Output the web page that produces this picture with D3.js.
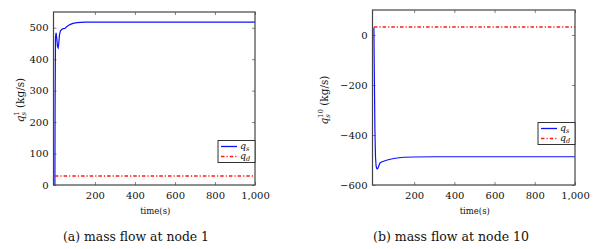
<!DOCTYPE html>
<html>
<head>
<meta charset="utf-8">
<script src="https://cdn.jsdelivr.net/npm/d3@7"></script>
<style>
  body { margin: 0; background: #fff; }
  svg text { font-family: "DejaVu Serif", "Liberation Serif", serif; fill: #111; }
</style>
</head>
<body>
<svg width="602" height="249"></svg>
<script>
// node 1 (left panel)
var t1   = [0, 1, 3, 6, 10, 13, 16, 19, 23, 28, 35, 42, 50, 60, 75, 90, 110, 130, 150, 200, 400, 600, 800, 1000];
var qs1  = [0, 250, 470, 484, 462, 440, 436, 448, 478, 490, 495, 497, 498, 504, 510, 514, 516, 517, 518, 518, 518, 518, 518, 518];
var qd1  = [30, 30];

// node 10 (right panel)
var t10  = [0, 2, 5, 8, 11, 14, 17, 20, 25, 30, 38, 45, 55, 75, 100, 125, 150, 200, 300, 1000];
var qs10 = [30, -150, -380, -490, -525, -534, -536, -533, -522, -512, -508, -506, -503, -498, -494, -491, -489, -488, -487, -487];
var qd10 = [30, 30];

var xTicks   = [200, 400, 600, 800, 1000];
var yTicks1  = [0, 100, 200, 300, 400, 500];
var yTicks10 = [-600, -400, -200, 0];

var svg = d3.select("svg");
var fmt = d3.format(",");
var minus = function(v){ return fmt(v).replace("-", "\u2212"); };
var RED = "#ff1a1a", BLUE = "#1010ff";

var drawPanel = function(o){
    var x = d3.scaleLinear().domain([-7, 1000]).range([o.left, o.right]);
    var y = d3.scaleLinear().domain(o.ydom).range([185, o.top]);
    var g = svg.append("g");

    // ticks inside, both sides
    var xa = d3.axisBottom(x).tickValues(xTicks).tickSizeInner(-3).tickSizeOuter(0).tickFormat(fmt).tickPadding(7);
    var gx = g.append("g").attr("transform", "translate(0,185)").call(xa);
    var xt = d3.axisTop(x).tickValues(xTicks).tickSizeInner(-3).tickSizeOuter(0).tickFormat("");
    var gxt = g.append("g").attr("transform", "translate(0," + o.top + ")").call(xt);
    var ya = d3.axisLeft(y).tickValues(o.yticks).tickSizeInner(-3).tickSizeOuter(0).tickFormat(minus).tickPadding(5);
    var gy = g.append("g").attr("transform", "translate(" + o.left + ",0)").call(ya);
    var yr = d3.axisRight(y).tickValues(o.yticks).tickSizeInner(-3).tickSizeOuter(0).tickFormat("");
    var gyr = g.append("g").attr("transform", "translate(" + o.right + ",0)").call(yr);
    [gx, gxt, gy, gyr].forEach(function(a){
        a.select(".domain").remove();
        a.selectAll("line").attr("stroke", "#666").attr("stroke-width", 0.8);
        a.selectAll("text").style("font-size", "10px").attr("fill", "#111")
            .style("font-family", "'DejaVu Serif', serif");
    });

    var line = d3.line().x(function(d){ return x(d[0]); }).y(function(d){ return y(d[1]); });
    var clip = "clip" + o.id;
    g.append("clipPath").attr("id", clip).append("rect")
        .attr("x", o.left).attr("y", o.top).attr("width", o.right - o.left).attr("height", 185 - o.top);

    g.append("path").datum(o.t.map(function(t, i){ return [t, o.qs[i]]; }))
        .attr("d", line).attr("clip-path", "url(#" + clip + ")")
        .attr("fill", "none").attr("stroke", BLUE).attr("stroke-width", 1.2);
    // flat demand line, snapped to a pixel row
    var yd = Math.round(y(o.qd[0]));
    g.append("path").datum([[0, o.qd[0]], [1000, o.qd[1]]])
        .attr("d", d3.line().x(function(d){ return x(d[0]); }).y(function(){ return yd; }))
        .attr("fill", "none").attr("stroke", RED).attr("stroke-width", 1.3)
        .attr("stroke-dasharray", "3.5,2,1.2,2");

    // frame
    g.append("rect").attr("x", o.left).attr("y", o.top)
        .attr("width", o.right - o.left).attr("height", 185 - o.top)
        .attr("fill", "none").attr("stroke", "#444").attr("stroke-width", 1.2);

    // legend
    var lg = g.append("g").attr("transform", "translate(" + (o.right - 37) + "," + o.legY + ")");
    lg.append("rect").attr("width", 37).attr("height", 22).attr("fill", "#fff")
        .attr("stroke", "#333").attr("stroke-width", 1);
    lg.append("line").attr("x1", 3).attr("x2", 19).attr("y1", 6).attr("y2", 6)
        .attr("stroke", BLUE).attr("stroke-width", 1.3);
    lg.append("line").attr("x1", 3).attr("x2", 19).attr("y1", 16).attr("y2", 16)
        .attr("stroke", RED).attr("stroke-width", 1.3).attr("stroke-dasharray", "3.5,2,1.2,2");
    var l1 = lg.append("text").attr("x", 22).attr("y", 8.5).style("font-size", "9.5px");
    l1.append("tspan").text("q").style("font-style", "italic");
    l1.append("tspan").text("s").style("font-style", "italic").style("font-size", "6.5px").attr("dy", 1.5);
    var l2 = lg.append("text").attr("x", 22).attr("y", 18.5).style("font-size", "9.5px");
    l2.append("tspan").text("q").style("font-style", "italic");
    l2.append("tspan").text("d").style("font-style", "italic").style("font-size", "6.5px").attr("dy", 1.5);

    // x label
    g.append("text").attr("x", (o.left + o.right) / 2 + 1).attr("y", 214)
        .attr("text-anchor", "middle").style("font-size", "8.5px").text("time(s)");

    // y label
    var yl = g.append("text").attr("transform", "translate(" + o.ylx + ",100) rotate(-90)")
        .attr("text-anchor", "middle").style("font-size", "10.5px");
    yl.append("tspan").text("q").style("font-style", "italic");
    yl.append("tspan").text("s").style("font-style", "italic").style("font-size", "7px").attr("dy", 2);
    yl.append("tspan").text(o.node).style("font-size", "7px").attr("dx", -4).attr("dy", -7);
    yl.append("tspan").text(" (kg/s)").attr("dy", 5);

    // caption
    g.append("text").attr("x", o.capX).attr("y", 241).style("font-size", "13px")
        .attr("textLength", o.capW).attr("lengthAdjust", "spacingAndGlyphs").text(o.caption);
};

drawPanel({id: 1, left: 53.5, right: 255, top: 12, ydom: [0, 550], yticks: yTicks1,
    t: t1, qs: qs1, qd: qd1, legY: 140.5, ylx: 24, node: "1",
    caption: "(a) mass flow at node 1", capX: 63, capW: 146});
drawPanel({id: 10, left: 372.5, right: 575, top: 10, ydom: [-600, 100], yticks: yTicks10,
    t: t10, qs: qs10, qd: qd10, legY: 122.5, ylx: 328, node: "10",
    caption: "(b) mass flow at node 10", capX: 373, capW: 156});
</script>
</body>
</html>
